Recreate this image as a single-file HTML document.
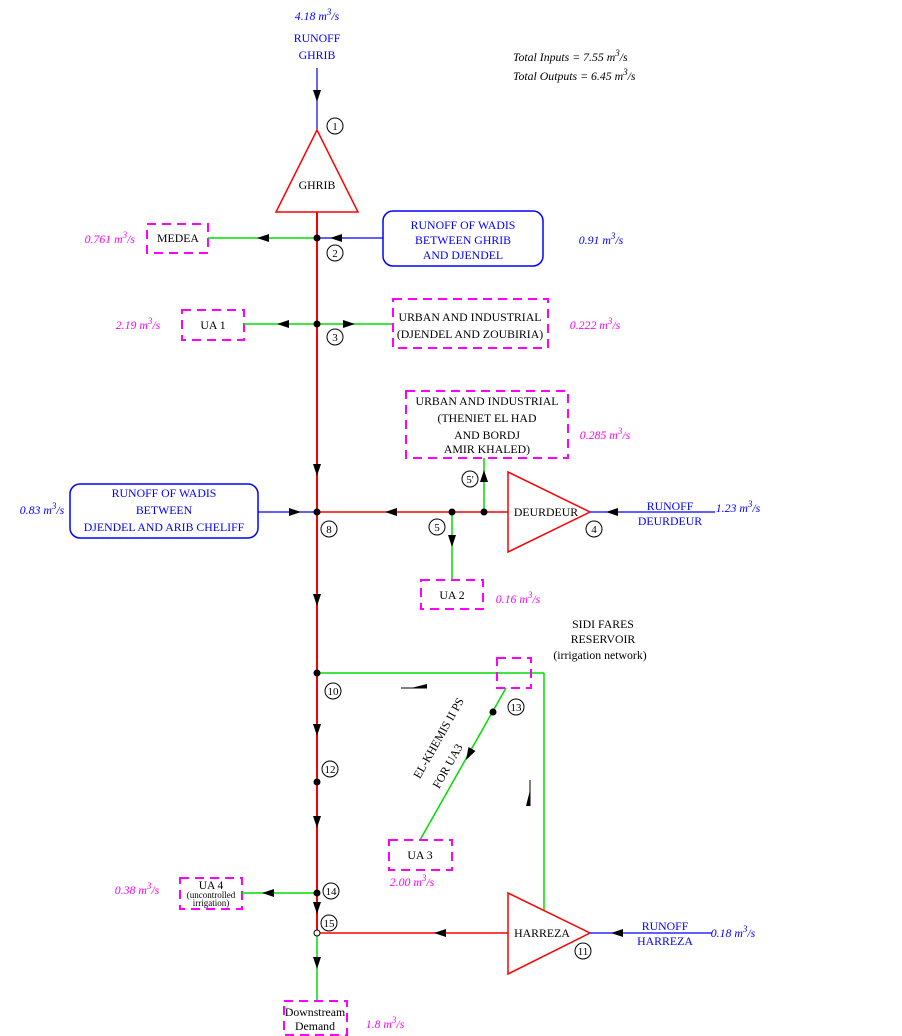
<!DOCTYPE html>
<html><head><meta charset="utf-8"><style>
html,body{margin:0;padding:0;background:#fff}
svg{display:block}
text{font-family:"Liberation Serif",serif;font-size:11.8px}
.b{fill:#0000ff}.m{fill:#ff00ff;font-style:italic}.bi{fill:#0000ff;font-style:italic}
.k{fill:#000}
.box{fill:none;stroke:#ff00ff;stroke-width:2;stroke-dasharray:9,6}
.c{fill:#fff;stroke:#000;stroke-width:1}
.c + text{font-size:11px}
</style></head><body>
<svg width="902" height="1036" viewBox="0 0 902 1036" xmlns="http://www.w3.org/2000/svg">
<text x="513" y="61" class="k" font-style="italic">Total Inputs  =  7.55 m<tspan dy="-5" font-size="9">3</tspan><tspan dy="5">/s</tspan></text>
<text x="513" y="80" class="k" font-style="italic">Total Outputs =  6.45 m<tspan dy="-5" font-size="9">3</tspan><tspan dy="5">/s</tspan></text>

<text x="317" y="20" class="bi" text-anchor="middle">4.18 m<tspan dy="-5" font-size="9">3</tspan><tspan dy="5">/s</tspan></text>
<text x="317" y="42" class="b" text-anchor="middle">RUNOFF</text>
<text x="317" y="59" class="b" text-anchor="middle">GHRIB</text>
<line x1="317" y1="68" x2="317" y2="130" stroke="#0000ff" stroke-width="1.2"/>
<polygon points="313,90 321,90 317,102" fill="#000"/>
<circle cx="335" cy="126" r="8" class="c"/><text x="335" y="130" text-anchor="middle" class="k">1</text>

<line x1="317" y1="212" x2="317" y2="933" stroke="#ff0000" stroke-width="2"/>
<line x1="317" y1="933" x2="317" y2="1001" stroke="#00dd00" stroke-width="1.5"/>
<polygon points="276,212 358,212 317,130" fill="#fff" stroke="#ff0000" stroke-width="1.5"/>
<text x="317" y="189" text-anchor="middle" class="k">GHRIB</text>

<rect x="147" y="224" width="61" height="29" class="box"/>
<text x="178" y="242" text-anchor="middle" class="k">MEDEA</text>
<text x="135" y="243" text-anchor="end" class="m">0.761 m<tspan dy="-5" font-size="9">3</tspan><tspan dy="5">/s</tspan></text>
<line x1="208" y1="238" x2="317" y2="238" stroke="#00dd00" stroke-width="1.5"/>
<line x1="317" y1="238" x2="383" y2="238" stroke="#0000ff" stroke-width="1.2"/>
<polygon points="257,238 269,234 269,242" fill="#000"/>
<polygon points="330,238 342,234 342,242" fill="#000"/>
<circle cx="317" cy="238" r="3.5" fill="#000"/>
<circle cx="335" cy="253" r="8" class="c"/><text x="335" y="257" text-anchor="middle" class="k">2</text>
<rect x="383" y="211" width="160" height="55" rx="10" fill="none" stroke="#0000ff" stroke-width="1.5"/>
<text x="463" y="229" text-anchor="middle" class="b">RUNOFF OF WADIS</text>
<text x="463" y="244" text-anchor="middle" class="b">BETWEEN GHRIB</text>
<text x="463" y="259" text-anchor="middle" class="b">AND DJENDEL</text>
<text x="601" y="244" text-anchor="middle" class="bi">0.91 m<tspan dy="-5" font-size="9">3</tspan><tspan dy="5">/s</tspan></text>

<rect x="182" y="310" width="62" height="30" class="box"/>
<text x="213" y="329" text-anchor="middle" class="k">UA 1</text>
<text x="138" y="329" text-anchor="middle" class="m">2.19 m<tspan dy="-5" font-size="9">3</tspan><tspan dy="5">/s</tspan></text>
<line x1="244" y1="324" x2="393" y2="324" stroke="#00dd00" stroke-width="1.5"/>
<polygon points="277,324 289,320 289,328" fill="#000"/>
<polygon points="355,324 343,320 343,328" fill="#000"/>
<circle cx="317" cy="324" r="3.5" fill="#000"/>
<circle cx="335" cy="337" r="8" class="c"/><text x="335" y="341" text-anchor="middle" class="k">3</text>
<rect x="393" y="299" width="155" height="49" class="box"/>
<text x="470" y="321" text-anchor="middle" class="k">URBAN AND INDUSTRIAL</text>
<text x="470" y="338" text-anchor="middle" class="k">(DJENDEL AND ZOUBIRIA)</text>
<text x="595" y="329" text-anchor="middle" class="m">0.222 m<tspan dy="-5" font-size="9">3</tspan><tspan dy="5">/s</tspan></text>

<polygon points="313,464 321,464 317,476" fill="#000"/>

<rect x="406" y="391" width="162" height="67" class="box"/>
<text x="487" y="405" text-anchor="middle" class="k">URBAN AND INDUSTRIAL</text>
<text x="487" y="422" text-anchor="middle" class="k">(THENIET EL HAD</text>
<text x="487" y="439" text-anchor="middle" class="k">AND BORDJ</text>
<text x="487" y="453" text-anchor="middle" class="k">AMIR KHALED)</text>
<text x="605" y="439" text-anchor="middle" class="m">0.285 m<tspan dy="-5" font-size="9">3</tspan><tspan dy="5">/s</tspan></text>

<rect x="70" y="484" width="188" height="54" rx="10" fill="none" stroke="#0000ff" stroke-width="1.5"/>
<text x="164" y="497" text-anchor="middle" class="b">RUNOFF OF WADIS</text>
<text x="164" y="514" text-anchor="middle" class="b">BETWEEN</text>
<text x="164" y="531" text-anchor="middle" class="b">DJENDEL AND ARIB CHELIFF</text>
<text x="42" y="514" text-anchor="middle" class="bi">0.83 m<tspan dy="-5" font-size="9">3</tspan><tspan dy="5">/s</tspan></text>
<line x1="258" y1="512" x2="317" y2="512" stroke="#0000ff" stroke-width="1.2"/>
<polygon points="301,512 289,508 289,516" fill="#000"/>
<line x1="317" y1="512" x2="508" y2="512" stroke="#ff0000" stroke-width="1.5"/>
<polygon points="385,512 397,508 397,516" fill="#000"/>
<circle cx="317" cy="512" r="3.5" fill="#000"/>
<circle cx="329" cy="529" r="8" class="c"/><text x="329" y="533" text-anchor="middle" class="k">8</text>
<line x1="452" y1="512" x2="452" y2="580" stroke="#00dd00" stroke-width="1.5"/>
<polygon points="448,535 456,535 452,547" fill="#000"/>
<circle cx="452" cy="512" r="3.5" fill="#000"/>
<circle cx="437" cy="527" r="8" class="c"/><text x="437" y="531" text-anchor="middle" class="k">5</text>
<line x1="484" y1="512" x2="484" y2="458" stroke="#00dd00" stroke-width="1.5"/>
<polygon points="480,482 488,482 484,470" fill="#000"/>
<circle cx="484" cy="512" r="3.5" fill="#000"/>
<circle cx="470" cy="479" r="8" class="c"/><text x="470" y="483" text-anchor="middle" class="k">5'</text>
<polygon points="508,472 508,552 590,512" fill="#fff" stroke="#ff0000" stroke-width="1.5"/>
<text x="546" y="516" text-anchor="middle" class="k">DEURDEUR</text>
<line x1="590" y1="512" x2="715" y2="512" stroke="#0000ff" stroke-width="1.2"/>
<polygon points="606,512 618,508 618,516" fill="#000"/>
<text x="670" y="510" text-anchor="middle" class="b">RUNOFF</text>
<text x="670" y="525" text-anchor="middle" class="b">DEURDEUR</text>
<text x="738" y="512" text-anchor="middle" class="bi">1.23 m<tspan dy="-5" font-size="9">3</tspan><tspan dy="5">/s</tspan></text>
<circle cx="594" cy="529" r="8" class="c"/><text x="594" y="533" text-anchor="middle" class="k">4</text>

<rect x="421" y="580" width="62" height="29" class="box"/>
<text x="452" y="599" text-anchor="middle" class="k">UA 2</text>
<text x="518" y="603" text-anchor="middle" class="m">0.16 m<tspan dy="-5" font-size="9">3</tspan><tspan dy="5">/s</tspan></text>

<polygon points="313,594 321,594 317,606" fill="#000"/>

<text x="603" y="628" text-anchor="middle" class="k">SIDI FARES</text>
<text x="603" y="643" text-anchor="middle" class="k">RESERVOIR</text>
<text x="600" y="659" text-anchor="middle" class="k">(irrigation network)</text>
<line x1="317" y1="673" x2="544" y2="673" stroke="#00dd00" stroke-width="1.5"/>
<line x1="544" y1="673" x2="544" y2="910" stroke="#00dd00" stroke-width="1.5"/>
<rect x="497" y="658" width="34" height="30" fill="#fff" class="box" stroke-dasharray="8,6"/>
<circle cx="317" cy="673" r="3.5" fill="#000"/>
<circle cx="333" cy="691" r="8" class="c"/><text x="333" y="695" text-anchor="middle" class="k">10</text>
<line x1="401" y1="688" x2="427" y2="688" stroke="#000" stroke-width="1"/>
<polygon points="411,688 427,688 427,684" fill="#000"/>
<line x1="530" y1="780" x2="530" y2="806" stroke="#000" stroke-width="1"/>
<polygon points="530,790 530,806 526,806" fill="#000"/>
<line x1="506" y1="688" x2="420" y2="840" stroke="#00dd00" stroke-width="1.5"/>
<circle cx="493" cy="712" r="3.5" fill="#000"/>
<polygon points="466,760 475.5,751 468.5,747" fill="#000"/>
<circle cx="516" cy="707" r="8" class="c"/><text x="516" y="711" text-anchor="middle" class="k">13</text>
<text transform="translate(442,740) rotate(-60.5)" text-anchor="middle" class="k">EL-KHEMIS II PS</text>
<text transform="translate(451,768) rotate(-60.5)" text-anchor="middle" class="k">FOR UA3</text>

<polygon points="313,724 321,724 317,736" fill="#000"/>
<circle cx="317" cy="782" r="3.5" fill="#000"/>
<circle cx="330" cy="769" r="8" class="c"/><text x="330" y="773" text-anchor="middle" class="k">12</text>
<polygon points="313,816 321,816 317,828" fill="#000"/>

<rect x="389" y="840" width="63" height="30" class="box"/>
<text x="420" y="859" text-anchor="middle" class="k">UA 3</text>
<text x="412" y="886" text-anchor="middle" class="m">2.00 m<tspan dy="-5" font-size="9">3</tspan><tspan dy="5">/s</tspan></text>

<rect x="180" y="878" width="62" height="31" class="box"/>
<text x="211" y="889" text-anchor="middle" class="k" style="font-size:11.5px">UA 4</text>
<text x="211" y="898" text-anchor="middle" class="k" style="font-size:9px">(uncontrolled</text>
<text x="211" y="906" text-anchor="middle" class="k" style="font-size:9px">irrigation)</text>
<text x="137" y="894" text-anchor="middle" class="m">0.38 m<tspan dy="-5" font-size="9">3</tspan><tspan dy="5">/s</tspan></text>
<line x1="242" y1="893" x2="317" y2="893" stroke="#00dd00" stroke-width="1.5"/>
<polygon points="262,893 274,889 274,897" fill="#000"/>
<circle cx="317" cy="893" r="3.5" fill="#000"/>
<circle cx="331" cy="891" r="8" class="c"/><text x="331" y="895" text-anchor="middle" class="k">14</text>
<polygon points="313,902 321,902 317,914" fill="#000"/>
<circle cx="329" cy="923" r="8" class="c"/><text x="329" y="927" text-anchor="middle" class="k">15</text>
<line x1="317" y1="933" x2="508" y2="933" stroke="#ff0000" stroke-width="1.5"/>
<polygon points="434,933 446,929 446,937" fill="#000"/>
<circle cx="317" cy="933" r="3" fill="#fff" stroke="#000" stroke-width="1"/>
<polygon points="508,893 508,974 590,933" fill="#fff" stroke="#ff0000" stroke-width="1.5"/>
<text x="542" y="937" text-anchor="middle" class="k">HARREZA</text>
<circle cx="583" cy="951" r="8" class="c"/><text x="583" y="955" text-anchor="middle" class="k">11</text>
<line x1="590" y1="933" x2="712" y2="933" stroke="#0000ff" stroke-width="1.2"/>
<polygon points="611,933 623,929 623,937" fill="#000"/>
<text x="665" y="930" text-anchor="middle" class="b">RUNOFF</text>
<text x="665" y="945" text-anchor="middle" class="b">HARREZA</text>
<text x="733" y="937" text-anchor="middle" class="bi">0.18 m<tspan dy="-5" font-size="9">3</tspan><tspan dy="5">/s</tspan></text>

<polygon points="313,957 321,957 317,969" fill="#000"/>
<rect x="284" y="1001" width="63" height="34" class="box"/>
<text x="315" y="1016" text-anchor="middle" class="k">Downstream</text>
<text x="315" y="1030" text-anchor="middle" class="k">Demand</text>
<text x="385" y="1028" text-anchor="middle" class="m">1.8 m<tspan dy="-5" font-size="9">3</tspan><tspan dy="5">/s</tspan></text>
</svg>
</body></html>
